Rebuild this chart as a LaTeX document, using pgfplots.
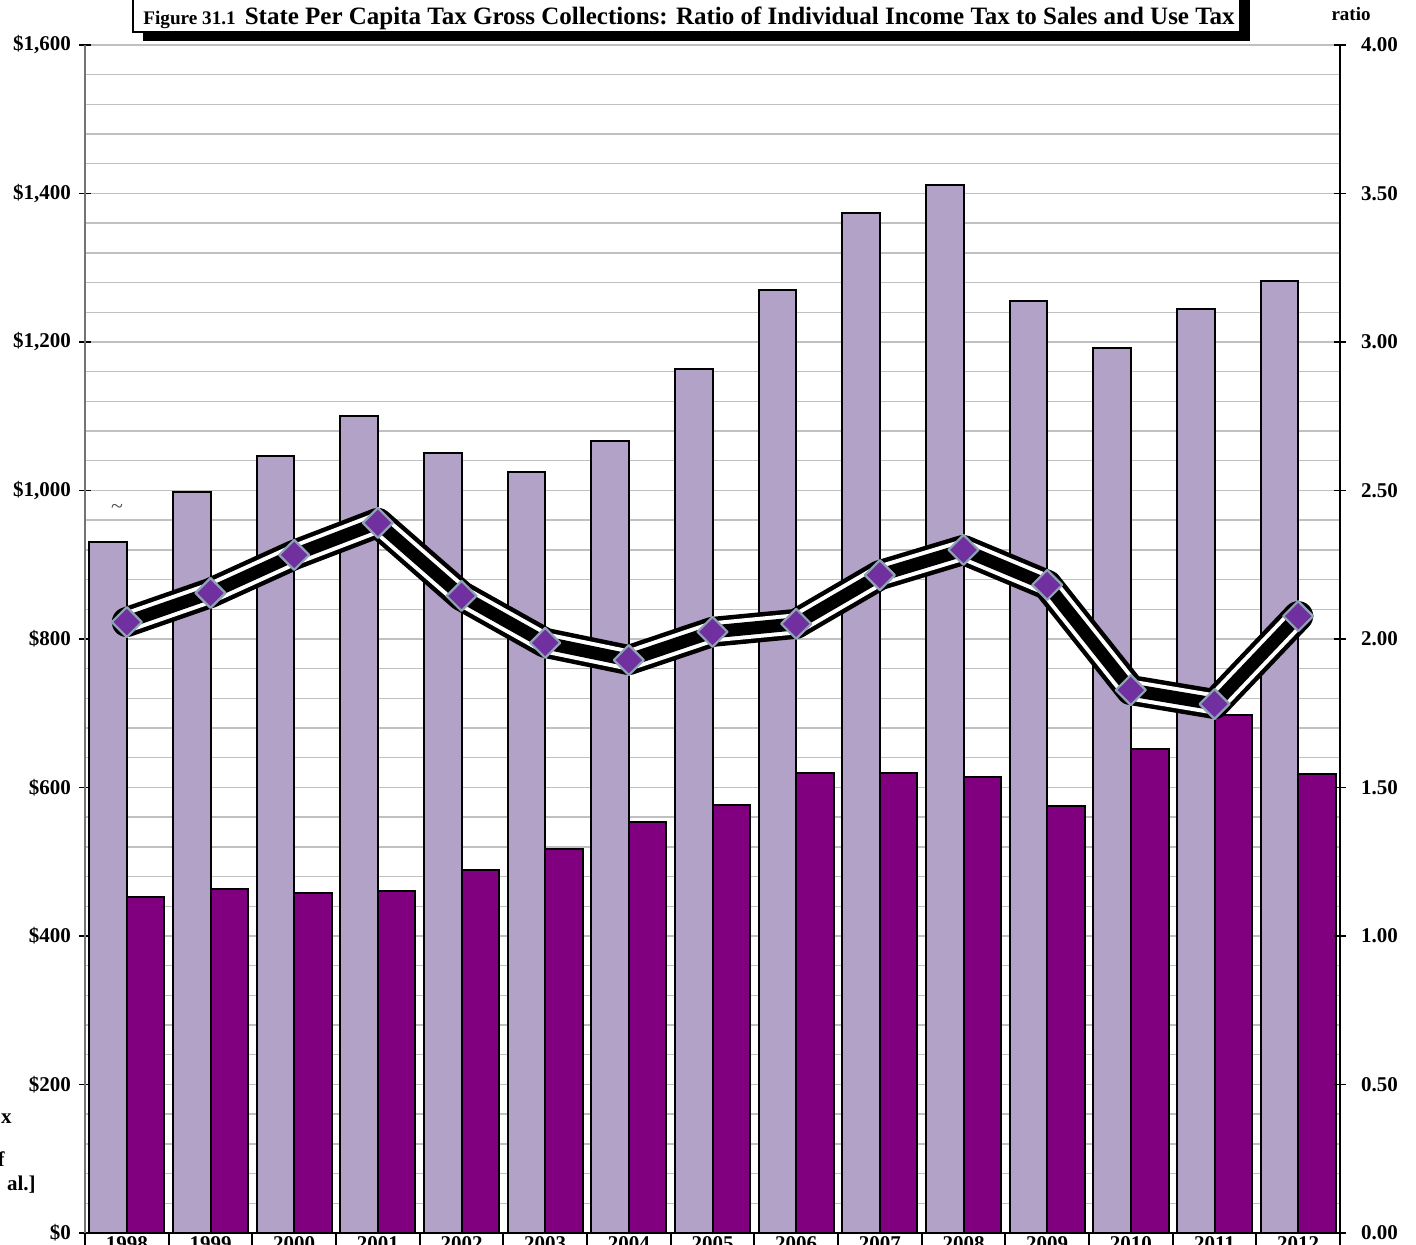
\documentclass[border=0pt]{standalone}
\usepackage{fontspec}
\setmainfont{Liberation Serif}
\usepackage{pgfplots}
\usepackage{pgfplotstable}
\pgfplotsset{compat=1.18}
\definecolor{lightbar}{HTML}{B3A2C7}
\definecolor{darkbar}{HTML}{800080}
\definecolor{mk}{HTML}{7030A0}
\definecolor{mkedge}{HTML}{8FA3B5}
\definecolor{gridc}{HTML}{C0C0C0}

\pgfplotstableread{
x light dark ratio
0 931 452 2.057
1 998 463 2.155
2 1046 458 2.283
3 1100 460 2.391
4 1050 489 2.145
5 1025 517 1.987
6 1067 553 1.929
7 1164 576 2.024
8 1270 620 2.051
9 1374 620 2.215
10 1411 614 2.300
11 1255 575 2.182
12 1192 652 1.828
13 1244 698 1.781
14 1282 618 2.077
}\data

\begin{document}
\begin{tikzpicture}
\begin{axis}[
  at={(0,0)}, anchor=south west,
  scale only axis, width=627.5pt, height=594pt,
  xmin=-0.5, xmax=14.5, ymin=0, ymax=1600,
  axis x line*=bottom, axis y line*=left,
  axis line style={-},
  x axis line style={line width=1.2pt, black},
  y axis line style={line width=0.9pt, draw=black!55},
  xtick={0,...,14},
  xticklabels={1998,1999,2000,2001,2002,2003,2004,2005,2006,2007,2008,2009,2010,2011,2012},
  xticklabel style={font=\bfseries\fontsize{10.5}{12}\selectfont, anchor=north, inner sep=0pt, yshift=4.2pt},
  xtick style={draw=none},
  extra x ticks={-0.5,0.5,1.5,2.5,3.5,4.5,5.5,6.5,7.5,8.5,9.5,10.5,11.5,12.5,13.5,14.5},
  extra x tick labels={},
  extra x tick style={xtick style={draw=black, line width=1pt}, major tick length=14pt, tick align=outside, grid=none},
  ytick={0,200,...,1600},
  minor y tick num=4,
  ymajorgrids, yminorgrids,
  major grid style={gridc, line width=0.7pt},
  minor grid style={gridc, line width=0.7pt},
  ytick align=center, major tick length=6pt, minor tick length=0pt,
  ytick style={black, line width=0.8pt},
  yticklabel={\$\pgfmathprintnumber{\tick}},
  yticklabel style={font=\bfseries\fontsize{10.5}{12}\selectfont, xshift=-0.5pt, /pgf/number format/.cd, 1000 sep={,}, assume math mode=true},
  ybar, bar width=0.45,
]
\addplot[fill=lightbar, draw=black, line width=1pt, bar shift=-0.225] table[x=x,y=light]{\data};
\addplot[fill=darkbar, draw=black, line width=1pt, bar shift=0.225] table[x=x,y=dark]{\data};
\end{axis}
\begin{axis}[
  at={(0,0)}, anchor=south west,
  scale only axis, width=627.5pt, height=594pt,
  xmin=-0.5, xmax=14.5, ymin=0, ymax=4,
  axis x line=none, axis y line*=right,
  axis line style={-},
  y axis line style={line width=1.2pt, black},
  ytick={0,0.5,...,4},
  ytick align=center, major tick length=6pt,
  ytick style={black, line width=0.8pt},
  yticklabel style={font=\bfseries\fontsize{10.5}{12}\selectfont, xshift=4pt, /pgf/number format/.cd, fixed, fixed zerofill, precision=2, assume math mode=true},
]
\addplot[black, line width=15pt, line cap=round, line join=round] table[x=x,y=ratio]{\data};
\addplot[white, line width=10.5pt, line cap=round, line join=round] table[x=x,y=ratio]{\data};
\addplot[black, line width=6.5pt, line cap=round, line join=round, mark=square*, mark size=5.3pt,
  mark options={rotate=45, fill=mk, draw=mkedge, line width=1.1pt, solid}] table[x=x,y=ratio]{\data};
\end{axis}
% title box
\fill[black] (29pt,596pt) rectangle (582.5pt,625pt);
\draw[fill=white, line width=1pt] (24pt,600.5pt) rectangle (577.5pt,625pt);
\node[anchor=base west, inner sep=0pt] at (29pt,604pt)
  {{\bfseries\fontsize{9.6}{11}\selectfont Figure 31.1}\hspace{4.5pt}{\bfseries\fontsize{12.5}{14}\selectfont State Per Capita Tax Gross Collections: Ratio of Individual Income Tax to Sales and Use Tax}};
\node[anchor=base, inner sep=0pt] at (633pt,606pt) {\bfseries\fontsize{9.5}{11}\selectfont ratio};
\node[inner sep=0pt, text=black!70] at (16pt,362pt) {\fontsize{11}{12}\selectfont \textasciitilde};
\node[anchor=base east, inner sep=0pt] at (-36.5pt,54.5pt) {\bfseries\fontsize{10.5}{12}\selectfont x};
\node[anchor=base east, inner sep=0pt] at (-40pt,33.5pt) {\bfseries\fontsize{10.5}{12}\selectfont f};
\node[anchor=base east, inner sep=0pt] at (-24.5pt,21pt) {\bfseries\fontsize{10.5}{12}\selectfont al.]};
\pgfresetboundingbox
\useasboundingbox (-42.5pt,-6pt) rectangle (665.5pt,616.5pt);
\end{tikzpicture}
\end{document}
